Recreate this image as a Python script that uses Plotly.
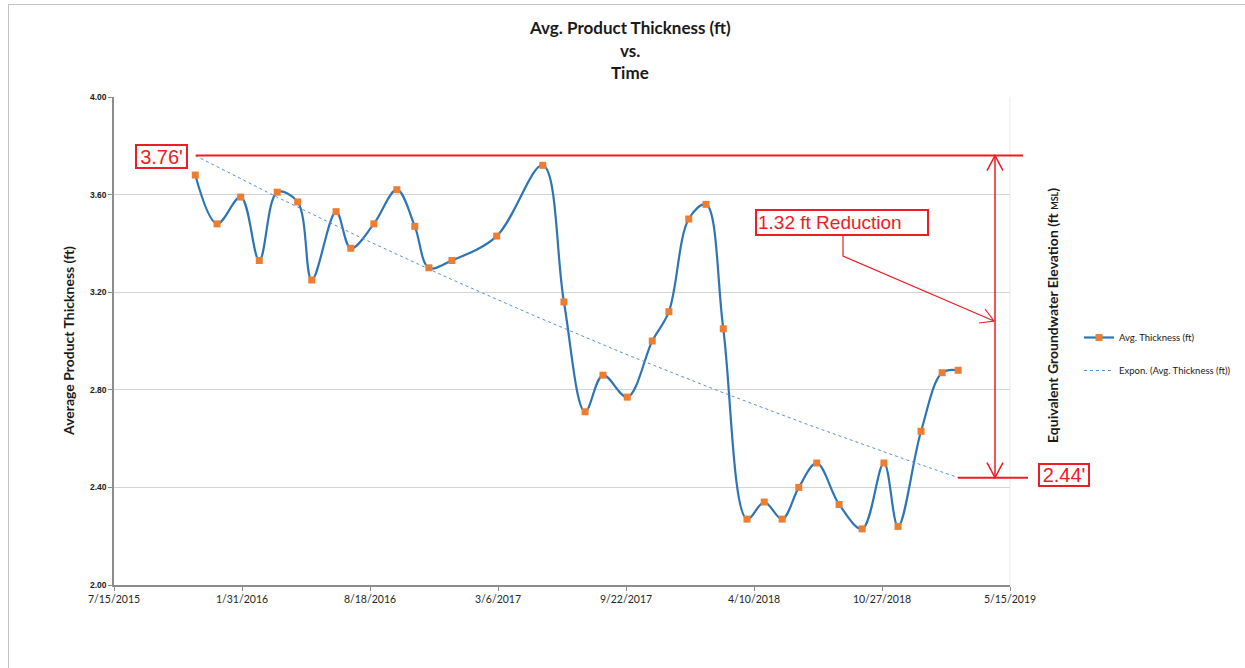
import pandas as pd
import plotly.graph_objects as go

# Monitoring dates and average product thickness (ft)
sample_dates = [
    "2015-11-19", "2015-12-23", "2016-01-29", "2016-02-27", "2016-03-26",
    "2016-04-27", "2016-05-19", "2016-06-26", "2016-07-19", "2016-08-24",
    "2016-09-29", "2016-10-27", "2016-11-18", "2016-12-24", "2017-03-04",
    "2017-05-15", "2017-06-17", "2017-07-20", "2017-08-17", "2017-09-24",
    "2017-11-02", "2017-11-28", "2017-12-29", "2018-01-25", "2018-02-21",
    "2018-03-30", "2018-04-26", "2018-05-24", "2018-06-19", "2018-07-17",
    "2018-08-21", "2018-09-26", "2018-10-30", "2018-11-21", "2018-12-27",
    "2019-01-29", "2019-02-23",
]
avg_thickness = [
    3.68, 3.48, 3.59, 3.33, 3.61,
    3.57, 3.25, 3.53, 3.38, 3.48,
    3.62, 3.47, 3.30, 3.33, 3.43,
    3.72, 3.16, 2.71, 2.86, 2.77,
    3.00, 3.12, 3.50, 3.56, 3.05,
    2.27, 2.34, 2.27, 2.40, 2.50,
    2.33, 2.23, 2.50, 2.24, 2.63,
    2.87, 2.88,
]

# Exponential trend end values and the resulting reduction
trend_start = 3.76
trend_end = 2.44
reduction = 1.32

# Axis settings
x_tick_dates = ["2015-07-15", "2016-01-31", "2016-08-18", "2017-03-06",
                "2017-09-22", "2018-04-10", "2018-10-27", "2019-05-15"]
y_ticks = [2.00, 2.40, 2.80, 3.20, 3.60, 4.00]
Y_MIN, Y_MAX = 2.0, 4.0

W, H = 1245, 668
ML, MR, MT, MB = 114, 235, 97, 83
PW, PH = W - ML - MR, H - MT - MB


def px(X):
    """Pixel column -> paper x."""
    return (X - ML) / PW


def py(Y):
    """Pixel row -> paper y."""
    return (H - MB - Y) / PH


def dy(pixels):
    """Pixel height -> data units on the y axis."""
    return pixels * (Y_MAX - Y_MIN) / PH


t = pd.to_datetime(sample_dates)
span = (t[-1] - t[0]).days
trend_t = pd.date_range(t[0], t[-1], periods=120)
frac = (trend_t - t[0]).days.values / span
trend_vals = trend_start * (trend_end / trend_start) ** frac

fig = go.Figure()

fig.add_trace(go.Scatter(
    x=t, y=avg_thickness, mode="lines+markers", name="Avg. Thickness (ft)",
    line=dict(color="#2e75b6", width=2.2, shape="spline", smoothing=1.0),
    marker=dict(symbol="square", size=7, color="#ed7d31"),
    legendgroup="a",
))
fig.add_trace(go.Scatter(
    x=trend_t, y=trend_vals, mode="lines", name="Expon. (Avg. Thickness (ft))",
    line=dict(color="#5b8fd0", width=1, dash="dot"),
    legendgroup="b",
))

RED = "#ee1c25"
shapes = []
# outer chart frame
shapes.append(dict(type="line", xref="paper", yref="paper", x0=px(8), x1=px(W + 2),
                   y0=py(4.5), y1=py(4.5), line=dict(color="#c4c4c4", width=1)))
shapes.append(dict(type="line", xref="paper", yref="paper", x0=px(8.5), x1=px(8.5),
                   y0=py(4), y1=py(H + 2), line=dict(color="#c4c4c4", width=1)))
# faint right edge of plot area
shapes.append(dict(type="line", xref="paper", yref="paper", x0=1, x1=1, y0=0, y1=1,
                   line=dict(color="#ececec", width=1)))

# reference lines at start / end of trend
shapes.append(dict(type="line", xref="paper", yref="y", x0=px(196), x1=px(1023),
                   y0=trend_start, y1=trend_start, line=dict(color=RED, width=2)))
shapes.append(dict(type="line", xref="paper", yref="y", x0=px(958), x1=px(1028),
                   y0=trend_end, y1=trend_end, line=dict(color=RED, width=2)))
# double arrow between them
xa = px(995)
shapes.append(dict(type="line", xref="paper", yref="y", x0=xa, x1=xa,
                   y0=trend_start, y1=trend_end, line=dict(color=RED, width=1.5)))
hw = 8 / PW
top_v = trend_start - dy(15)
bot_v = trend_end + dy(15)
shapes.append(dict(type="path", xref="paper", yref="y",
                   path=f"M {xa - hw},{top_v} L {xa},{trend_start} L {xa + hw},{top_v}",
                   line=dict(color=RED, width=1.5)))
shapes.append(dict(type="path", xref="paper", yref="y",
                   path=f"M {xa - hw},{bot_v} L {xa},{trend_end} L {xa + hw},{bot_v}",
                   line=dict(color=RED, width=1.5)))
# leader from the reduction label to the arrow
shapes.append(dict(type="path", xref="paper", yref="paper",
                   path=f"M {px(843)},{py(236)} L {px(843)},{py(256)} L {px(994)},{py(321)}",
                   line=dict(color=RED, width=1.2)))
shapes.append(dict(type="path", xref="paper", yref="paper",
                   path=f"M {px(985)},{py(309)} L {px(994)},{py(321)} L {px(979)},{py(323)}",
                   line=dict(color=RED, width=1.2)))

ann = []
TITLE_FONT = dict(family="Lato, Open Sans, sans-serif", size=17, color="#1a1a1a")
for text, yy in [("<b>Avg. Product Thickness (ft)</b>", 27),
                 ("<b>vs.</b>", 50), ("<b>Time</b>", 73)]:
    ann.append(dict(text=text, xref="paper", yref="paper", x=px(630), y=py(yy),
                    showarrow=False, font=TITLE_FONT, xanchor="center", yanchor="middle"))

ann.append(dict(text="<b>Average Product Thickness (ft)</b>", xref="paper", yref="paper",
                x=px(68), y=py(341), textangle=-90, showarrow=False,
                font=dict(family="Lato, sans-serif", size=14, color="#1a1a1a"),
                xanchor="center", yanchor="middle"))
ann.append(dict(text="<b>Equivalent Groundwater Elevation (ft <span style='font-size:9px'>MSL</span>)</b>",
                xref="paper", yref="paper", x=px(1052), y=py(316), textangle=-90,
                showarrow=False, font=dict(family="Lato, sans-serif", size=14, color="#1a1a1a"),
                xanchor="center", yanchor="middle"))

BOX_FONT = dict(family="Liberation Sans, Arial, sans-serif", size=20, color=RED)
ann.append(dict(text=f"{trend_start:.2f}'", xref="paper", yref="y", x=px(161.5),
                y=trend_start - dy(0.5), showarrow=False, font=BOX_FONT,
                bordercolor=RED, borderwidth=2, borderpad=1, bgcolor="white",
                width=47, height=19, xanchor="center", yanchor="middle"))
ann.append(dict(text=f"{trend_end:.2f}'", xref="paper", yref="y", x=px(1064),
                y=trend_end + dy(3), showarrow=False, font=BOX_FONT,
                bordercolor=RED, borderwidth=2, borderpad=1, bgcolor="white",
                width=46, height=18, xanchor="center", yanchor="middle"))
ann.append(dict(text=f"{reduction:.2f} ft Reduction", xref="paper", yref="paper",
                x=px(842), y=py(222.5), showarrow=False,
                font=dict(family="Liberation Sans, Arial, sans-serif", size=19, color=RED),
                bordercolor=RED, borderwidth=2, borderpad=1, bgcolor="white",
                width=168, height=21, align="left", xanchor="center", yanchor="middle"))

tick_dt = pd.to_datetime(x_tick_dates)
fig.update_layout(
    width=W, height=H,
    margin=dict(l=ML, r=MR, t=MT, b=MB, autoexpand=False),
    paper_bgcolor="white", plot_bgcolor="white",
    showlegend=True,
    legend=dict(x=px(1079), y=py(323), xanchor="left", yanchor="top",
                font=dict(family="Lato, sans-serif", size=9.5, color="#1a1a1a"),
                bgcolor="rgba(0,0,0,0)", itemwidth=30, tracegroupgap=14,
                traceorder="grouped"),
    xaxis=dict(
        type="date", range=[tick_dt[0], tick_dt[-1]],
        tickmode="array", tickvals=tick_dt,
        ticktext=[f"{d.month}/{d.day}/{d.year}" for d in tick_dt],
        showgrid=False, showline=True, linecolor="#8c8c8c", linewidth=1.5,
        ticks="outside", ticklen=4, tickcolor="#8c8c8c",
        tickfont=dict(family="Lato, sans-serif", size=10.5, color="#262626"),
        zeroline=False, automargin=False,
    ),
    yaxis=dict(
        range=[Y_MIN, Y_MAX], tickmode="array", tickvals=y_ticks,
        ticktext=[f"<b>{v:.2f}</b>" for v in y_ticks],
        showgrid=True, gridcolor="#d4d4d4", gridwidth=1,
        showline=True, linecolor="#8c8c8c", linewidth=1.5,
        ticks="outside", ticklen=4, tickcolor="#8c8c8c",
        tickfont=dict(family="Liberation Sans, Arial, sans-serif", size=8.5, color="#1a1a1a"),
        zeroline=False, automargin=False,
    ),
    shapes=shapes,
    annotations=ann,
)

fig.write_html("out.html")
